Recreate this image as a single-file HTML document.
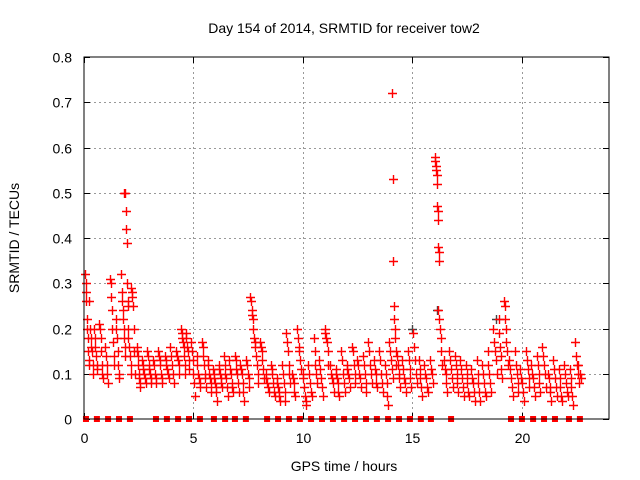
<!DOCTYPE html>
<html><head><meta charset="utf-8"><style>
body{margin:0;background:#fff;}
svg{display:block;font-family:"Liberation Sans",sans-serif;}
</style></head><body>
<svg id="chart" width="640" height="480" viewBox="0 0 640 480">
<rect width="640" height="480" fill="#fff"/>
<text x="344" y="33" font-size="14" text-anchor="middle" fill="#000">Day 154 of 2014, SRMTID for receiver tow2</text>
<text transform="translate(19,238) rotate(-90)" font-size="14" text-anchor="middle" fill="#000">SRMTID / TECUs</text>
<text x="344" y="471" font-size="14" text-anchor="middle" fill="#000">GPS time / hours</text>
<g id="grid"></g>
<g id="ticks"></g>
<g id="marks"></g>
<rect x="84" y="57" width="525" height="362" fill="none" stroke="#000" stroke-width="1"/>
</svg>
<script>
const xTicks=[0,5,10,15,20];
const yTicks=[0,0.1,0.2,0.3,0.4,0.5,0.6,0.7,0.8];
const yTickLabels=["0","0.1","0.2","0.3","0.4","0.5","0.6","0.7","0.8"];
const zeroTimes=[0.09,0.59,1.1,1.6,2.1,3.29,3.79,4.3,4.8,5.3,5.94,6.45,6.9,7.4,8.37,8.87,9.37,9.87,10.38,10.88,11.38,11.89,12.39,12.89,13.39,13.9,14.4,14.9,15.4,15.86,16.78,19.52,20.02,20.53,21.03,21.53,22.17,22.67];
const clusterTimes=[0.05,0.25,0.45,0.7,0.95,1.2,1.45,1.7,1.85,2.0,2.15,2.4,2.65,2.9,3.15,3.4,3.7,3.95,4.2,4.45,4.65,4.9,5.15,5.4,5.65,5.9,6.15,6.4,6.65,6.9,7.15,7.4,7.6,7.8,8.05,8.3,8.55,8.8,9.05,9.25,9.5,9.75,10.0,10.25,10.5,10.75,11.0,11.25,11.5,11.75,12.0,12.25,12.5,12.75,13.0,13.25,13.5,13.75,13.95,14.1,14.3,14.55,14.8,15.05,15.3,15.55,15.8,16.05,16.2,16.45,16.7,16.95,17.2,17.45,17.7,17.95,18.2,18.45,18.7,18.95,19.2,19.45,19.7,19.95,20.2,20.45,20.7,20.95,21.2,21.45,21.7,21.95,22.2,22.45,22.6];
const clusterValues=[
[0.32,0.3,0.28,0.26,0.22,0.2,0.18,0.15,0.13,0.12],[0.26,0.2,0.18,0.16,0.15,0.12,0.1],[0.2,0.18,0.16,0.14,0.12,0.11],[0.21,0.2,0.18,0.15,0.12,0.1,0.09],[0.16,0.14,0.12,0.1,0.08],
[0.31,0.3,0.27,0.24,0.2,0.17,0.14,0.12],[0.22,0.2,0.18,0.15,0.12,0.1,0.09],[0.32,0.28,0.26,0.24,0.22,0.2,0.18,0.16,0.14],[0.5,0.5,0.46,0.42,0.39,0.3,0.26,0.25],[0.2,0.18,0.16,0.14,0.12,0.1],
[0.29,0.28,0.27,0.25,0.2,0.15,0.1],[0.16,0.15,0.14,0.12,0.1,0.09,0.08,0.07],[0.13,0.12,0.11,0.1,0.09,0.08],[0.15,0.14,0.12,0.11,0.1,0.09,0.08],[0.13,0.12,0.1,0.09,0.08],
[0.15,0.14,0.13,0.12,0.1,0.09,0.08],[0.14,0.13,0.12,0.11,0.1,0.09],[0.16,0.14,0.12,0.1,0.08],[0.15,0.14,0.13,0.12,0.1],[0.2,0.19,0.18,0.17,0.16,0.14,0.12,0.1],
[0.19,0.18,0.16,0.15,0.13,0.11],[0.17,0.15,0.13,0.1,0.08,0.05],[0.14,0.12,0.1,0.09,0.08,0.07],[0.17,0.16,0.14,0.12,0.1,0.09,0.07],[0.13,0.12,0.1,0.09,0.08,0.06],
[0.11,0.1,0.09,0.08,0.07,0.06,0.04],[0.12,0.11,0.1,0.09,0.08,0.07],[0.14,0.12,0.1,0.09,0.07,0.05],[0.13,0.11,0.1,0.08,0.07,0.06],[0.14,0.13,0.11,0.1,0.08,0.06],
[0.12,0.11,0.1,0.08,0.06,0.04],[0.13,0.12,0.1,0.09,0.07],[0.27,0.26,0.24,0.23,0.22,0.2,0.18],[0.17,0.16,0.14,0.12,0.1,0.08],[0.17,0.16,0.15,0.13,0.11,0.09],
[0.1,0.09,0.08,0.07,0.06],[0.12,0.11,0.1,0.08,0.06,0.05],[0.09,0.08,0.07,0.06,0.05,0.04],[0.12,0.1,0.08,0.06,0.04],[0.19,0.17,0.15,0.12,0.1,0.08],
[0.1,0.09,0.08,0.06,0.05],[0.2,0.18,0.16,0.15,0.13,0.11],[0.1,0.09,0.07,0.05,0.04,0.03],[0.12,0.1,0.08,0.06,0.05],[0.18,0.15,0.12,0.1,0.08],
[0.13,0.11,0.09,0.07,0.05],[0.2,0.19,0.18,0.17,0.15,0.12],[0.12,0.1,0.09,0.08,0.06],[0.11,0.1,0.09,0.08,0.06,0.05],[0.15,0.13,0.1,0.08,0.06],
[0.12,0.11,0.1,0.09,0.07],[0.16,0.15,0.12,0.1,0.08],[0.13,0.12,0.1,0.09,0.07],[0.14,0.12,0.1,0.08,0.06],[0.17,0.15,0.12,0.1,0.08],
[0.13,0.11,0.1,0.08,0.07],[0.15,0.13,0.1,0.08,0.06],[0.12,0.1,0.08,0.05,0.03],[0.17,0.15,0.13,0.11,0.09],[0.72,0.53,0.35,0.25,0.22,0.2,0.18,0.15,0.12],
[0.14,0.12,0.1,0.09,0.07],[0.13,0.11,0.09,0.08,0.06],[0.15,0.13,0.11,0.09,0.07],[0.19,0.16,0.13,0.1,0.08],[0.13,0.11,0.09,0.07,0.05],
[0.12,0.1,0.09,0.07,0.06],[0.13,0.11,0.1,0.08],[0.58,0.57,0.56,0.55,0.54,0.52,0.47,0.46,0.44,0.38,0.37,0.35],[0.24,0.22,0.2,0.18,0.15,0.12],[0.13,0.11,0.1,0.08,0.06],
[0.15,0.13,0.11,0.09,0.07],[0.14,0.12,0.1,0.08,0.06],[0.13,0.11,0.09,0.07,0.05],[0.12,0.1,0.08,0.06,0.05],[0.11,0.09,0.08,0.06,0.04],
[0.13,0.1,0.08,0.06,0.04],[0.12,0.1,0.08,0.06,0.05],[0.15,0.12,0.1,0.08,0.06],[0.2,0.17,0.15,0.13,0.1],[0.22,0.19,0.16,0.14,0.11,0.09],
[0.26,0.25,0.22,0.2,0.17,0.15,0.12],[0.13,0.11,0.09,0.07,0.05],[0.15,0.12,0.1,0.08,0.06],[0.11,0.09,0.08,0.06,0.04],[0.15,0.13,0.11,0.09,0.07],
[0.12,0.1,0.09,0.07,0.05],[0.14,0.12,0.1,0.08,0.06],[0.16,0.14,0.12,0.1,0.07],[0.1,0.09,0.07,0.06,0.04],[0.13,0.11,0.09,0.07,0.05],
[0.11,0.09,0.07,0.05,0.04],[0.12,0.1,0.08,0.06,0.05],[0.11,0.09,0.07,0.05,0.03],[0.17,0.14,0.12,0.1,0.08],[0.12,0.1,0.09]
];
const blackTimes=[15.0,16.15,18.85];
const blackValues=[0.2,0.24,0.22];

const NS="http://www.w3.org/2000/svg";
const X0=84,X1=609,Y0=419,Y1=57,XMAX=24,YMAX=0.8;
function xs(t){return X0+(t/XMAX)*(X1-X0);}
function ys(v){return Y0-(v/YMAX)*(Y0-Y1);}
const grid=document.getElementById('grid'),ticks=document.getElementById('ticks'),marks=document.getElementById('marks');
function mk(tag,attrs,parent){const e=document.createElementNS(NS,tag);for(const k in attrs)e.setAttribute(k,attrs[k]);parent.appendChild(e);return e;}

yTicks.forEach((v,i)=>{
  const y=Math.round(ys(v))+0.5;
  if(i>0&&i<yTicks.length-1){const g=mk('line',{x1:X0,x2:X1,y1:y,y2:y,stroke:'#999','stroke-dasharray':'2,3','stroke-width':1},grid);
  
  }
  const t1=mk('line',{x1:X0,x2:X0+6,y1:y,y2:y,stroke:'#000'},ticks);
  
  
  const t2=mk('line',{x1:X1-6,x2:X1,y1:y,y2:y,stroke:'#000'},ticks);
  
  
  const l=mk('text',{x:72,y:y+5,'font-size':14,'text-anchor':'end',fill:'#000'},ticks);
  l.textContent=yTickLabels[i];
  
  
});
xTicks.forEach((t,i)=>{
  const x=Math.round(xs(t))+0.5;
  if(i>0){const g=mk('line',{x1:x,x2:x,y1:Y0,y2:Y1,stroke:'#999','stroke-dasharray':'2,3','stroke-width':1},grid);
  
  }
  const t1=mk('line',{x1:x,x2:x,y1:Y0,y2:Y0-6,stroke:'#000'},ticks);
  
  
  const t2=mk('line',{x1:x,x2:x,y1:Y1,y2:Y1+6,stroke:'#000'},ticks);
  
  
  const l=mk('text',{x:x,y:443,'font-size':14,'text-anchor':'middle',fill:'#000'},ticks);
  l.textContent=String(t);
  
  
});
function plus(t,v,color,name){
  const x=Math.round(xs(t))+0.5,y=Math.round(ys(v))+0.5;
  const p=mk('path',{d:`M${x-4.5} ${y}H${x+4.5}M${x} ${y-4.5}V${y+4.5}`,stroke:color,'stroke-width':1.4,fill:'none'},marks);
  
  
}
blackTimes.forEach((t,i)=>plus(t,blackValues[i],'#444','point-black'));
clusterTimes.forEach((t,i)=>{
  const vals=clusterValues[i];
  vals.forEach((v,j)=>plus(t+(j/vals.length)*0.2,v,'#f00','point-srmtid'));
});
zeroTimes.forEach(t=>{
  const x=xs(t);
  const r=mk('rect',{x:x-3,y:Y0-3,width:6,height:6,fill:'#f00'},marks);
  
  
});
</script>
</body></html>
